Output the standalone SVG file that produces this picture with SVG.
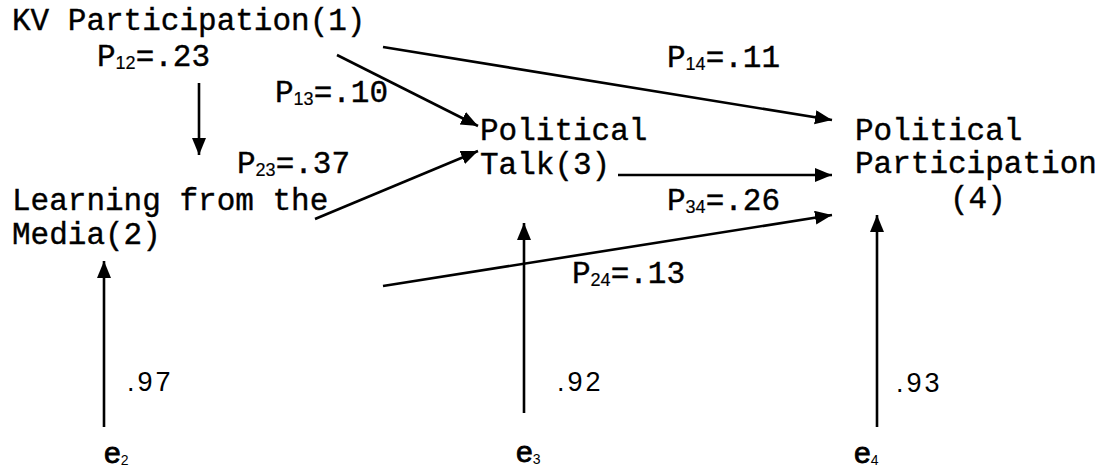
<svg xmlns="http://www.w3.org/2000/svg" width="1106" height="468" viewBox="0 0 1106 468">
<style>
.t{font-family:"Liberation Mono","Courier New",monospace;font-size:31px;fill:#000;stroke:#000;stroke-width:0.4;}
.s{font-family:"Liberation Sans",Arial,sans-serif;font-size:18px;stroke-width:0.2;}
.n{font-family:"Liberation Sans",Arial,sans-serif;font-size:27px;letter-spacing:3px;fill:#000;}
.e{font-family:"Liberation Sans",Arial,sans-serif;font-size:30px;fill:#000;stroke:#000;stroke-width:0.8;}
.es{font-size:14px;stroke-width:0;}
.c{stroke:#000;stroke-width:2.6;fill:none;marker-end:url(#ah);}
</style>
<defs>
<marker id="ah" markerUnits="userSpaceOnUse" markerWidth="18" markerHeight="16" refX="17" refY="7" orient="auto">
<path d="M0,0 L17,7 L0,14 Z" fill="#000"/>
</marker>
</defs>
<rect width="1106" height="468" fill="#fff"/>
<g id="connectors">
<line class="c" x1="199" y1="83" x2="199" y2="155"/>
<line class="c" x1="337" y1="55" x2="478" y2="126"/>
<line class="c" x1="383" y1="47" x2="832" y2="120"/>
<line class="c" x1="315" y1="219" x2="478" y2="151"/>
<line class="c" x1="618" y1="175" x2="832" y2="175"/>
<line class="c" x1="383" y1="286" x2="832" y2="215"/>
<line class="c" x1="104" y1="427" x2="104" y2="261"/>
<line class="c" x1="524" y1="413" x2="524" y2="223"/>
<line class="c" x1="877" y1="427" x2="877" y2="215"/>
</g>
<g id="labels">
<text class="t" x="97" y="66">P<tspan class="s" dy="3">12</tspan><tspan dy="-3">=.23</tspan></text>
<text class="t" x="275" y="102">P<tspan class="s" dy="3">13</tspan><tspan dy="-3">=.10</tspan></text>
<text class="t" x="237" y="173">P<tspan class="s" dy="3">23</tspan><tspan dy="-3">=.37</tspan></text>
<text class="t" x="667" y="67">P<tspan class="s" dy="3">14</tspan><tspan dy="-3">=.11</tspan></text>
<text class="t" x="667" y="210">P<tspan class="s" dy="3">34</tspan><tspan dy="-3">=.26</tspan></text>
<text class="t" x="572" y="283">P<tspan class="s" dy="3">24</tspan><tspan dy="-3">=.13</tspan></text>
<text class="n" x="127" y="391">.97</text>
<text class="n" x="557" y="391">.92</text>
<text class="n" x="896" y="392">.93</text>
</g>
<g id="node1"><text class="t" x="12" y="30" font-size="30">KV Participation(1)</text></g>
<g id="node2"><text class="t" x="12" y="210">Learning from the</text><text class="t" x="12" y="244">Media(2)</text></g>
<g id="node3"><text class="t" x="480" y="140">Political</text><text class="t" x="480" y="174">Talk(3)</text></g>
<g id="node4"><text class="t" x="855" y="140">Political</text><text class="t" x="855" y="173">Participation</text><text class="t" x="950" y="208">(4)</text></g>
<g id="e2"><text class="e" x="104" y="463">e<tspan class="es" dy="2">2</tspan></text></g>
<g id="e3"><text class="e" x="516" y="462">e<tspan class="es" dy="2">3</tspan></text></g>
<g id="e4"><text class="e" x="854" y="463">e<tspan class="es" dy="2">4</tspan></text></g>
</svg>
